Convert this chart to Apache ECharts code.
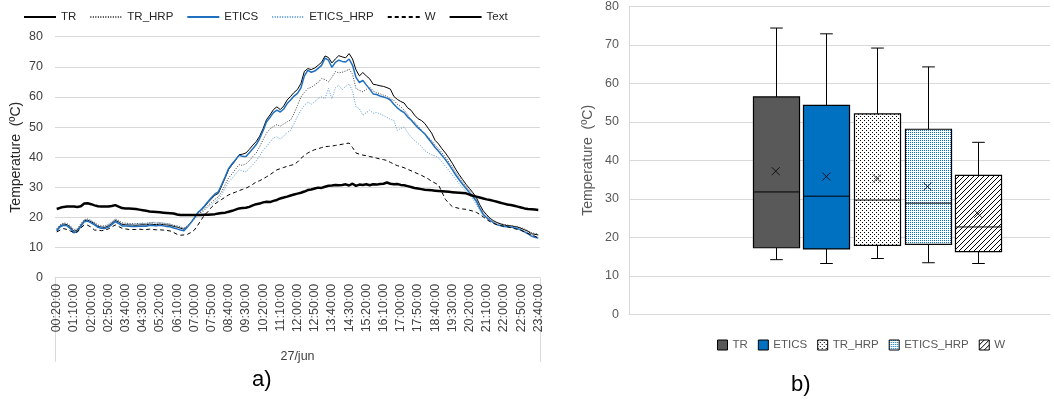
<!DOCTYPE html>
<html>
<head>
<meta charset="utf-8">
<script src="https://cdn.jsdelivr.net/npm/echarts@6/dist/echarts.min.js"></script>
<style>
  html, body { margin: 0; padding: 0; background: #ffffff; }
  #chart { width: 1054px; height: 401px; }
</style>
</head>
<body>
<div id="chart"></div>
<script>
// ---- a) temperature readings every 10 minutes, 27 June (00:20 .. 23:40) ----
const times = [];
for (let m = 20; m <= 1420; m += 10) {
  const h = String(Math.floor(m / 60)).padStart(2, '0');
  const mm = String(m % 60).padStart(2, '0');
  times.push(h + ':' + mm + ':00');
}

const TR = [
  15.8, 17.2, 17.8, 17.6, 16.8, 15.4, 15.8, 17.4, 18.9, 19.1,
  18.6, 17.9, 17.1, 16.8, 16.7, 17.2, 18.0, 19.0, 18.5, 17.7,
  17.6, 17.5, 17.5, 17.4, 17.5, 17.6, 17.5, 17.8, 17.7, 17.6,
  17.8, 17.6, 17.5, 17.4, 17.0, 16.8, 16.4, 16.1, 17.0, 18.3,
  19.8, 21.5, 22.4, 23.6, 25.0, 26.2, 27.4, 28.0, 30.6, 33.2,
  36.0, 37.5, 39.0, 40.8, 41.0, 41.4, 42.6, 44.0, 45.2, 47.0,
  49.5, 52.5, 54.0, 55.8, 56.7, 55.8, 57.0, 59.0, 60.2, 61.5,
  62.5, 64.5, 68.5, 69.4, 69.1, 69.6, 70.5, 71.5, 73.6, 73.1,
  71.3, 72.6, 73.7, 73.3, 73.0, 74.4, 72.6, 69.0, 67.0, 68.1,
  67.0, 66.0, 64.2, 64.0, 63.7, 63.5, 63.1, 62.6, 60.2, 59.2,
  58.5, 58.0, 56.4, 55.6, 54.0, 52.8, 52.2, 51.2, 49.6, 48.0,
  45.6, 44.4, 42.8, 41.4, 39.8, 38.0, 36.0, 34.2, 32.6, 31.0,
  29.6, 28.2, 26.6, 24.2, 22.2, 20.9, 19.7, 18.9, 18.3, 17.9,
  17.5, 17.3, 17.2, 17.0, 16.8, 16.4, 15.9, 15.4, 14.6, 14.4, 14.2
];

const TR_HRP = [
  16.3, 17.6, 18.2, 18.0, 17.2, 15.9, 16.3, 17.9, 19.3, 19.5,
  19.0, 18.3, 17.5, 17.2, 17.2, 17.7, 18.5, 19.5, 19.0, 18.2,
  18.1, 18.0, 18.0, 17.9, 18.0, 18.1, 18.0, 18.3, 18.2, 18.1,
  18.2, 18.1, 17.9, 17.8, 17.4, 17.2, 16.8, 16.5, 17.2, 18.3,
  19.6, 21.0, 21.8, 22.8, 24.0, 25.0, 26.0, 26.8, 28.6, 31.0,
  33.2, 34.5, 36.0, 37.5, 37.3, 37.8, 38.8, 40.2, 41.4, 43.5,
  45.8, 48.0, 49.4, 50.2, 50.8, 50.3, 51.0, 51.8, 52.3, 54.5,
  57.2, 60.0, 61.5, 62.8, 63.2, 64.0, 64.8, 66.1, 65.8, 65.0,
  66.5, 68.4, 68.0, 68.2, 68.6, 69.2, 67.6, 62.8, 62.2, 61.7,
  62.5, 63.3, 62.0, 61.4, 61.1, 60.6, 60.2, 59.4, 58.9, 57.6,
  56.8, 55.6, 54.2, 52.2, 51.7, 50.4, 49.0, 47.6, 46.7, 45.6,
  44.0, 42.8, 41.5, 40.0, 38.4, 36.8, 35.0, 33.4, 31.8, 30.3,
  28.9, 27.6, 25.9, 23.7, 21.6, 20.4, 19.6, 18.9, 18.3, 17.9,
  17.7, 17.5, 17.3, 17.1, 16.9, 16.6, 16.2, 15.6, 15.0, 14.7, 14.5
];

const ETICS = [
  15.5, 16.9, 17.4, 17.2, 16.3, 14.9, 15.3, 17.0, 18.6, 18.8,
  18.2, 17.5, 16.7, 16.4, 16.3, 16.8, 17.6, 18.6, 18.0, 17.2,
  17.2, 17.1, 17.0, 17.0, 17.1, 17.2, 17.1, 17.4, 17.3, 17.2,
  17.4, 17.2, 17.0, 16.9, 16.5, 16.2, 15.8, 15.6, 16.8, 18.2,
  19.8, 21.6, 22.6, 23.9, 25.3, 26.6, 27.8, 28.5, 31.0, 33.6,
  36.3, 37.8, 39.2, 40.6, 40.3, 40.2, 41.5, 42.8, 44.2, 46.2,
  48.8, 51.8, 53.2, 54.8, 55.6, 55.0, 56.0, 57.8, 59.0, 60.3,
  61.2, 63.0, 67.0, 68.8, 68.2, 68.6, 69.5, 70.5, 72.9, 72.2,
  69.8, 71.5, 72.2, 71.8, 71.6, 72.6, 70.5, 66.5, 64.8, 65.5,
  64.0, 62.6, 61.0, 60.8, 60.3, 60.0, 59.6, 59.0, 57.6, 56.4,
  55.5, 54.8, 53.4, 52.4, 51.0, 49.8, 48.8, 47.8, 46.2, 44.8,
  43.2, 42.0, 40.6, 39.2, 37.6, 35.9, 34.1, 32.5, 31.0, 29.6,
  28.2, 26.9, 25.4, 23.0, 21.0, 19.9, 19.0, 18.3, 17.6, 17.3,
  17.0, 16.9, 16.8, 16.6, 16.3, 15.8, 15.2, 14.6, 13.8, 13.4, 13.2
];

const ETICS_HRP = [
  16.0, 17.4, 17.9, 17.7, 16.8, 15.5, 15.9, 17.6, 19.1, 19.3,
  18.8, 18.0, 17.2, 16.9, 16.9, 17.5, 18.3, 19.3, 18.7, 17.9,
  17.8, 17.8, 17.7, 17.8, 17.9, 18.0, 17.9, 18.2, 18.4, 18.2,
  18.3, 18.1, 17.9, 17.7, 17.3, 17.0, 16.6, 16.3, 17.0, 18.1,
  19.4, 20.7, 21.4, 22.4, 23.5, 24.4, 25.3, 26.0, 27.6, 29.8,
  31.8, 33.0, 34.4, 35.8, 35.4, 35.2, 36.3, 37.5, 38.8, 40.5,
  42.3, 43.5, 45.0, 46.4, 46.8, 46.0, 47.0, 48.2, 48.9, 51.2,
  53.6, 55.6, 57.2, 58.3, 57.6, 58.4, 59.5, 60.0, 59.4, 62.8,
  59.4, 63.0, 63.9, 62.4, 63.5, 64.3, 62.0, 56.7, 56.1, 53.9,
  54.8, 55.6, 54.6, 54.8, 54.4, 53.8, 53.2, 52.6, 52.2, 48.9,
  49.5, 50.0, 48.2, 46.7, 45.6, 44.6, 43.6, 42.2, 41.4, 40.8,
  40.4, 39.8, 38.4, 37.0, 35.6, 34.1, 32.6, 31.2, 29.8, 28.5,
  27.3, 26.1, 24.3, 22.3, 20.5, 19.6, 18.9, 18.3, 17.7, 17.4,
  17.2, 17.0, 16.9, 16.7, 16.4, 16.0, 15.4, 14.8, 14.0, 13.6, 13.4
];

const W = [
  15.2, 15.8, 16.3, 16.0, 15.5, 14.9, 15.2, 16.5, 17.5, 17.4,
  16.8, 15.8, 15.8, 15.6, 15.8, 16.2, 16.8, 17.5, 17.0, 16.4,
  16.2, 16.0, 16.0, 16.0, 16.1, 16.0, 16.0, 16.1, 16.0, 15.9,
  15.9, 15.8, 15.7, 15.5, 15.0, 14.4, 14.1, 14.2, 14.4, 15.0,
  15.8, 17.4, 19.2, 20.8, 22.0, 23.4, 24.5, 25.3, 26.0, 26.8,
  27.5, 28.0, 28.4, 28.9, 29.3, 29.7, 30.3, 31.0, 31.8, 32.2,
  32.8, 33.5, 34.2, 35.0, 35.8, 36.2, 36.6, 37.0, 37.3, 37.6,
  38.4, 39.6, 40.6, 41.4, 42.0, 42.5, 42.8, 43.2, 43.5, 43.6,
  43.7, 43.9, 44.1, 44.3, 44.5, 44.7, 43.2, 41.4, 41.0, 40.7,
  40.5, 40.2, 40.0, 39.7, 39.4, 39.2, 38.9, 38.3, 37.7, 37.2,
  36.9, 36.5, 36.0, 35.5, 35.0, 34.5, 34.0, 33.4, 32.8, 32.0,
  31.4, 30.8, 28.4, 26.0, 24.7, 23.6, 23.3, 23.0, 22.8, 22.7,
  22.4, 22.1, 21.7, 21.0, 20.2, 19.3, 18.6, 18.0, 17.6, 17.3,
  17.1, 16.9, 16.6, 16.3, 16.0, 15.7, 15.2, 14.7, 14.2, 13.8, 13.2
];

const Text = [
  22.8, 23.2, 23.5, 23.6, 23.6, 23.6, 23.5, 23.7, 24.6, 24.7,
  24.4, 24.0, 23.7, 23.6, 23.6, 23.6, 23.8, 24.1, 23.6, 23.1,
  23.0, 23.0, 22.9, 22.8, 22.6, 22.4, 22.2, 22.0, 21.9, 21.8,
  21.7, 21.6, 21.5, 21.4, 21.3, 21.0, 20.8, 20.8, 20.8, 20.8,
  20.8, 20.8, 20.8, 20.9, 20.9, 21.0, 21.1, 21.3, 21.5, 21.6,
  21.9, 22.2, 22.6, 23.0, 23.1, 23.2, 23.5, 24.0, 24.4, 24.6,
  25.0, 25.2, 25.1, 25.5, 25.8, 26.3, 26.6, 26.9, 27.3, 27.6,
  27.9, 28.2, 28.6, 29.1, 29.3, 29.6, 29.9, 29.8, 30.2, 30.5,
  30.6, 30.8, 30.7, 30.8, 31.0, 30.6, 31.2, 30.5, 30.9, 30.8,
  31.0, 30.7, 31.0, 30.9, 31.1, 31.2, 31.6, 31.2, 31.0, 31.1,
  30.8, 30.7, 30.4, 30.1, 29.8, 29.6, 29.4, 29.2, 29.1, 29.0,
  28.9, 28.8, 28.7, 28.6, 28.5, 28.4, 28.3, 28.2, 28.1, 28.0,
  27.6, 27.2, 26.9, 26.6, 26.3, 26.0, 25.8, 25.5, 25.2, 24.9,
  24.6, 24.3, 24.1, 23.9, 23.6, 23.3, 23.0, 22.8, 22.7, 22.6, 22.5
];

// ---- b) box-and-whisker summary of the same day ----
const boxNames  = ['TR', 'ETICS', 'TR_HRP', 'ETICS_HRP', 'W'];
const boxMin    = [14.2, 13.2, 14.5, 13.4, 13.2];
const boxQ1     = [17.3, 17.0, 17.9, 18.2, 16.3];
const boxMedian = [31.8, 30.7, 29.7, 28.9, 22.7];
const boxQ3     = [56.5, 54.3, 52.1, 48.1, 36.1];
const boxMax    = [74.4, 72.9, 69.2, 64.3, 44.7];
const boxMean   = [37.2, 35.8, 35.3, 33.2, 26.1];

// ---- layout ----
const FONT = "'Liberation Sans', Arial, sans-serif";
const GRID_A = { left: 55, top: 36.7, width: 485, height: 241 };
const GRID_B = { left: 629, top: 4.7, width: 421, height: 309.6 };
const BOX_WIDTH = 0.91;   // in x-axis units of panel b
const CAP_WIDTH = 0.25;

// fill tiles for the boxes
function makeTile(size, bg, ink, cells) {
  const c = document.createElement('canvas');
  c.width = size; c.height = size;
  const g = c.getContext('2d');
  g.fillStyle = bg; g.fillRect(0, 0, size, size);
  g.fillStyle = ink;
  cells.forEach(([x, y]) => g.fillRect(x, y, 1, 1));
  return c;
}
const boxFills = [
  '#595959',
  '#0070C0',
  { image: makeTile(4, '#ffffff', '#000000', [[0, 0], [2, 2]]), repeat: 'repeat' },
  { image: makeTile(2, '#ffffff', '#0070C0', [[0, 0]]), repeat: 'repeat' },
  { image: makeTile(5, '#ffffff', '#000000', [[4, 0], [3, 1], [2, 2], [1, 3], [0, 4]]), repeat: 'repeat' }
];

function renderBox(fill) {
  return function (params, api) {
    const x = api.value(0);
    const pMin = api.coord([x, api.value(1)]);
    const pQ1 = api.coord([x, api.value(2)]);
    const pMed = api.coord([x, api.value(3)]);
    const pQ3 = api.coord([x, api.value(4)]);
    const pMax = api.coord([x, api.value(5)]);
    const half = api.size([BOX_WIDTH, 0])[0] / 2;
    const cap = api.size([CAP_WIDTH, 0])[0] / 2;
    const cx = Math.round(pMed[0]) + 0.5;
    const ink = { stroke: '#000000', lineWidth: 1 };
    return {
      type: 'group',
      children: [
        { type: 'line', shape: { x1: cx, y1: pMax[1], x2: cx, y2: pQ3[1] }, style: ink },
        { type: 'line', shape: { x1: cx - cap, y1: pMax[1], x2: cx + cap, y2: pMax[1] }, style: ink },
        { type: 'line', shape: { x1: cx, y1: pQ1[1], x2: cx, y2: pMin[1] }, style: ink },
        { type: 'line', shape: { x1: cx - cap, y1: pMin[1], x2: cx + cap, y2: pMin[1] }, style: ink },
        { type: 'rect', shape: { x: cx - half, y: pQ3[1], width: half * 2, height: pQ1[1] - pQ3[1] },
          style: { fill: fill, stroke: '#000000', lineWidth: 1.2 } },
        { type: 'line', shape: { x1: cx - half, y1: pMed[1], x2: cx + half, y2: pMed[1] }, style: ink }
      ]
    };
  };
}

const lineDefs = [
  { name: 'TR',        data: TR,        color: '#000000', width: 1,   type: 'solid' },
  { name: 'TR_HRP',    data: TR_HRP,    color: '#404040', width: 1,   type: [1, 1.5] },
  { name: 'ETICS',     data: ETICS,     color: '#1F6FBF', width: 1.5, type: 'solid' },
  { name: 'ETICS_HRP', data: ETICS_HRP, color: '#5B9BD5', width: 1,   type: [1, 1.5] },
  { name: 'W',         data: W,         color: '#000000', width: 1,   type: [4, 3] },
  { name: 'Text',      data: Text,      color: '#000000', width: 2.5, type: 'solid' }
];

const series = lineDefs.map(d => ({
  name: d.name,
  type: 'line',
  xAxisIndex: 0, yAxisIndex: 0,
  data: d.data,
  symbol: 'none',
  showSymbol: false,
  lineStyle: { color: d.color, width: d.width, type: d.type },
  itemStyle: { color: d.color },
  emphasis: { disabled: true },
  z: d.name === 'Text' ? 3 : 2
}));

boxNames.forEach((name, i) => {
  series.push({
    name: name,
    type: 'custom',
    xAxisIndex: 1, yAxisIndex: 1,
    itemStyle: { color: boxFills[i], borderColor: '#000000', borderWidth: 1 },
    renderItem: renderBox(boxFills[i]),
    data: [[i + 1, boxMin[i], boxQ1[i], boxMedian[i], boxQ3[i], boxMax[i]]],
    encode: { x: 0, y: [1, 2, 3, 4, 5] },
    z: 2
  });
});

series.push({
  name: 'mean',
  type: 'scatter',
  xAxisIndex: 1, yAxisIndex: 1,
  data: boxMean.map((m, i) => [i + 1, m]),
  symbol: 'path://M0,0L10,10M10,0L0,10',
  symbolSize: 8,
  itemStyle: { color: 'rgba(0,0,0,0)', borderColor: '#000000', borderWidth: 1 },
  emphasis: { disabled: true },
  z: 5
});

const grayLine = { stroke: '#D9D9D9', lineWidth: 1 };
const axisBottomA = GRID_A.top + GRID_A.height;

const option = {
  animation: false,
  backgroundColor: '#ffffff',
  textStyle: { fontFamily: FONT },
  grid: [
    Object.assign({ containLabel: false }, GRID_A),
    Object.assign({ containLabel: false }, GRID_B)
  ],
  legend: [
    {
      data: lineDefs.map(d => d.name),
      left: 23, top: 11, padding: 0,
      itemWidth: 32, itemHeight: 10, itemGap: 13,
      itemStyle: { opacity: 0 },
      textStyle: { fontFamily: FONT, fontSize: 11.5, color: '#262626' },
      selectedMode: false
    },
    {
      data: boxNames.map((n, i) => ({
        name: n,
        icon: 'rect',
        itemStyle: { color: boxFills[i], borderColor: '#000000', borderWidth: 1 }
      })),
      left: 717, top: 339, padding: 0,
      itemWidth: 10, itemHeight: 10, itemGap: 10,
      textStyle: { fontFamily: FONT, fontSize: 11.5, color: '#595959' },
      selectedMode: false
    }
  ],
  xAxis: [
    {
      type: 'category', gridIndex: 0, data: times, boundaryGap: true,
      axisLine: { show: true, onZero: false, lineStyle: { color: '#D9D9D9', width: 1 } },
      axisTick: { show: false },
      axisLabel: { interval: 4, rotate: 90, fontSize: 12.5, color: '#404040', margin: 6,
                   fontFamily: FONT, showMaxLabel: true, showMinLabel: true },
      splitLine: { show: false },
      name: '27/jun', nameLocation: 'middle', nameGap: 72,
      nameTextStyle: { fontSize: 12.5, color: '#404040', fontFamily: FONT }
    },
    {
      type: 'value', gridIndex: 1, min: -1.9, max: 6.42,
      axisLine: { show: true, onZero: false, lineStyle: { color: '#D9D9D9', width: 1 } },
      axisTick: { show: false }, axisLabel: { show: false }, splitLine: { show: false }
    }
  ],
  yAxis: [
    {
      type: 'value', gridIndex: 0, min: 0, max: 80, interval: 10,
      axisLine: { show: false, onZero: false }, axisTick: { show: false },
      axisLabel: { fontSize: 12.5, color: '#404040', margin: 12, fontFamily: FONT },
      splitLine: { lineStyle: { color: '#D9D9D9', width: 1 } },
      name: 'Temperature  (ºC)', nameLocation: 'middle', nameGap: 32,
      nameTextStyle: { fontSize: 14, color: '#262626', fontFamily: FONT }
    },
    {
      type: 'value', gridIndex: 1, min: 0, max: 80, interval: 10,
      axisLine: { show: true, onZero: false, lineStyle: { color: '#D9D9D9', width: 1 } },
      axisTick: { show: false },
      axisLabel: { fontSize: 12.5, color: '#595959', margin: 10, fontFamily: FONT },
      splitLine: { lineStyle: { color: '#D9D9D9', width: 1 } },
      name: 'Temperature  (ºC)', nameLocation: 'middle', nameGap: 34,
      nameTextStyle: { fontSize: 14, color: '#595959', fontFamily: FONT }
    }
  ],
  graphic: [
    // category-level divider lines under panel a
    { type: 'line', silent: true,
      shape: { x1: GRID_A.left + 0.5, y1: axisBottomA, x2: GRID_A.left + 0.5, y2: axisBottomA + 84 }, style: grayLine },
    { type: 'line', silent: true,
      shape: { x1: GRID_A.left + GRID_A.width + 0.5, y1: axisBottomA, x2: GRID_A.left + GRID_A.width + 0.5, y2: axisBottomA + 84 }, style: grayLine },
    // panel captions
    { type: 'text', left: 252, top: 369, style: { text: 'a)', font: '22px ' + FONT, fill: '#000000' } },
    { type: 'text', left: 791, top: 374, style: { text: 'b)', font: '22px ' + FONT, fill: '#000000' } }
  ],
  series: series
};

const chart = echarts.init(document.getElementById('chart'), null, { renderer: 'canvas' });
chart.setOption(option);
</script>
</body>
</html>
